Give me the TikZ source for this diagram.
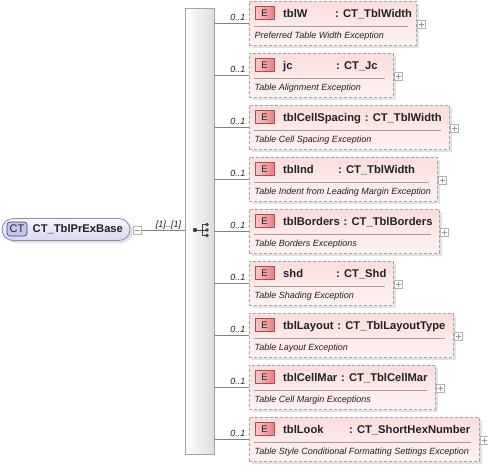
\documentclass[tikz,border=0pt]{standalone}
\usepackage{fontspec}
\setmainfont{Liberation Sans}
\usetikzlibrary{calc}
\definecolor{connc}{RGB}{130,130,130}
\definecolor{boxborder}{RGB}{165,165,165}
\definecolor{boxtop}{RGB}{251,221,221}
\definecolor{boxbot}{RGB}{255,243,243}
\definecolor{shadowc}{RGB}{226,226,226}
\definecolor{badgeborder}{RGB}{170,80,80}
\definecolor{badgetop}{RGB}{248,200,200}
\definecolor{badgebot}{RGB}{232,128,128}
\definecolor{cttop}{RGB}{246,246,255}
\definecolor{ctbot}{RGB}{214,214,240}
\definecolor{ctborder}{RGB}{140,140,175}
\definecolor{ctbadge}{RGB}{196,196,238}
\definecolor{ctbadgeborder}{RGB}{70,70,130}
\definecolor{barborder}{RGB}{165,165,165}
\definecolor{txt}{RGB}{34,34,34}

% #1 id, #2 centre y, #3 right x, #4 name, #5 minimum x of the colon, #6 type, #7 description
\newcommand\myelem[7]{%
  \fill[shadowc] (251.5,#2-19.5) rectangle (#3+2.5,#2+24.5);
  \node[elembox, anchor=north west, minimum width={#3pt-249pt}, minimum height=44pt] (#1) at (249,#2-22) {};
  \node[ebadge] (#1b) at (264.5,#2-10) {E};
  \node[ename, anchor=base west] (#1n) at (283,#2-6) {#4};
  \path let \p1=(#1n.base east) in
    node[ename, anchor=base west] (#1t) at ({max(\x1+3.5,#5)},#2-6) {: #6};
  \draw[sepline] (254,#2+3.5) -- (#3-8,#2+3.5);
  \node[edesc, anchor=base west] (#1d) at (254.5,#2+15) {#7};
  \node[plusbox] (#1p) at (#3+5,#2+1.5) {};
  \draw[conn] (bar.east |- #1.west) -- (#1.west);
  \node[card, anchor=base east] (#1c) at (245.5,#2-3) {0..1};
}

\begin{document}
\begin{tikzpicture}[x=1pt,y=-1pt,
  conn/.style={draw=connc, line width=0.7pt},
  sepline/.style={draw=gray!75, line width=0.6pt},
  elembox/.style={draw=boxborder, dash pattern=on 3pt off 2pt, line width=0.8pt,
    top color=boxtop, bottom color=boxbot, inner sep=0pt, outer sep=0pt},
  ebadge/.style={draw=badgeborder, line width=0.6pt, left color=badgetop, right color=badgebot,
    minimum width=19pt, minimum height=12.5pt, inner sep=0pt, outer sep=0pt,
    font=\fontsize{9.5}{10}\selectfont, text=txt},
  ename/.style={inner sep=0pt, font=\fontsize{11.2}{13}\selectfont\bfseries, text=txt},
  edesc/.style={inner sep=0pt, font=\fontsize{9}{11}\selectfont\itshape, text=txt},
  card/.style={inner sep=0pt, font=\fontsize{9}{11}\selectfont\itshape, text=txt},
  plusbox/.style={draw=gray!60, fill=white, minimum size=8pt, inner sep=0pt, line width=0.5pt,
    path picture={\draw[gray!80, line width=0.6pt]
      ($(path picture bounding box.center)+(-2.5,0)$) -- ($(path picture bounding box.center)+(2.5,0)$)
      ($(path picture bounding box.center)+(0,-2.5)$) -- ($(path picture bounding box.center)+(0,2.5)$);}},
  minusbox/.style={draw=gray!60, fill=white, minimum size=8pt, inner sep=0pt, line width=0.5pt,
    path picture={\draw[gray!80, line width=0.6pt]
      ($(path picture bounding box.center)+(-2.5,0)$) -- ($(path picture bounding box.center)+(2.5,0)$);}},
  seqbar/.style={draw=barborder, line width=0.7pt, left color=white, right color=black!13,
    inner sep=0pt, outer sep=0pt},
  ctnode/.style={draw=ctborder, line width=0.8pt, top color=cttop, bottom color=ctbot,
    rounded corners=11pt, inner sep=0pt, outer sep=0pt},
  ctbadgest/.style={draw=ctbadgeborder, line width=0.7pt, fill=ctbadge, rounded corners=3pt,
    minimum width=20pt, minimum height=14pt, inner sep=0pt,
    font=\fontsize{11}{12}\selectfont, text=txt},
]
\useasboundingbox (0,0) rectangle (488,467);

% sequence bar
\node[seqbar, anchor=north west, minimum width=29pt, minimum height=446pt] (bar) at (185,8) {};
% sequence symbol
\draw[black!75, line width=0.8pt] (195,230) -- (202,230) (202,224.5) -- (202,235.5)
  (202,224.5) -- (207,224.5) (202,230) -- (207,230) (202,235.5) -- (207,235.5);
\fill[black!75] (195,230) circle (2.2) (207,224.5) circle (1.9) (207,230) circle (1.9) (207,235.5) circle (1.9);

% complex type node
\fill[shadowc, rounded corners=11pt] (4.5,220.5) rectangle (132.5,243);
\node[ctnode, anchor=west, minimum width=128pt, minimum height=22pt] (ct) at (2,229.5) {};
\node[ctbadgest] (ctb) at (17,229) {CT};
\node[ename, anchor=west] (ctn) at (32.5,229.5) {CT\_TblPrExBase};
\node[minusbox] (ctm) at (137.5,230.5) {};
\draw[conn] (ctm.east) -- (bar.west |- ctm.east);
\node[card] (ctc) at (168.5,225) {[1]..[1]};

\myelem{e1}{23}{416}{tblW}{335}{CT\_TblWidth}{Preferred Table Width Exception}
\myelem{e2}{75}{393}{jc}{336}{CT\_Jc}{Table Alignment Exception}
\myelem{e3}{127}{449}{tblCellSpacing}{336}{CT\_TblWidth}{Table Cell Spacing Exception}
\myelem{e4}{179}{437}{tblInd}{338}{CT\_TblWidth}{Table Indent from Leading Margin Exception}
\myelem{e5}{231}{439}{tblBorders}{336}{CT\_TblBorders}{Table Borders Exceptions}
\myelem{e6}{283}{393}{shd}{336}{CT\_Shd}{Table Shading Exception}
\myelem{e7}{335}{453}{tblLayout}{336}{CT\_TblLayoutType}{Table Layout Exception}
\myelem{e8}{387}{435}{tblCellMar}{336}{CT\_TblCellMar}{Table Cell Margin Exceptions}
\myelem{e9}{439}{479}{tblLook}{349}{CT\_ShortHexNumber}{Table Style Conditional Formatting Settings Exception}
\end{tikzpicture}
\end{document}
